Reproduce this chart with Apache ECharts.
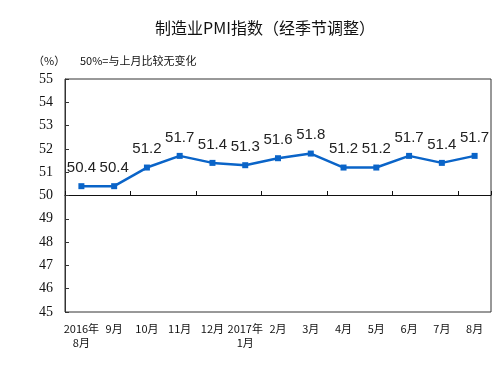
<!DOCTYPE html>
<html><head><meta charset="utf-8">
<script src="https://cdn.jsdelivr.net/npm/echarts@6/dist/echarts.min.js"></script>
<style>html,body{margin:0;padding:0;background:#fff}#c{width:498px;height:367px}</style>
</head><body><div id="c"></div>
<script>
const categories = ['2016年\n8月','9月','10月','11月','12月','2017年\n1月','2月','3月','4月','5月','6月','7月','8月'];
const pmiValues = [50.4,50.4,51.2,51.7,51.4,51.3,51.6,51.8,51.2,51.2,51.7,51.4,51.7];
const yTicks = [45,46,47,48,49,50,51,52,53,54,55];

const chart = echarts.init(document.getElementById('c'));
chart.setOption({
  animation:false,
  backgroundColor:'#fff',
  title:[{text:'制造业PMI指数（经季节调整）',left:260,top:15,textAlign:'center',
    textStyle:{fontFamily:'Noto Sans CJK SC',fontSize:16,fontWeight:'normal',color:'#111'}},
    {text:'（%）',left:28,top:50,textStyle:{fontFamily:'Noto Sans CJK SC',fontSize:11,fontWeight:'normal',color:'#111'}},
    {text:'50%=与上月比较无变化',left:75,top:50,textStyle:{fontFamily:'Noto Sans CJK SC',fontSize:11,fontWeight:'normal',color:'#111'}}],
  grid:{left:65,right:7,top:79,bottom:55,show:true,borderColor:'#333',borderWidth:1,backgroundColor:'#fff'},
  xAxis:[{type:'category',data:categories,boundaryGap:true,position:'bottom',
      axisLine:{show:false},axisTick:{show:false},
      axisLabel:{interval:0,margin:10,color:'#111',fontFamily:'Noto Sans CJK SC',fontSize:11,lineHeight:14}},
    {type:'category',data:categories,boundaryGap:true,position:'bottom',offset:-117,
      axisLine:{show:true,lineStyle:{color:'#111',width:1}},
      axisTick:{show:true,inside:true,length:4,lineStyle:{color:'#111'}},
      axisLabel:{show:false}}],
  yAxis:{type:'value',min:yTicks[0],max:yTicks[yTicks.length-1],interval:1,
    axisLine:{show:true,lineStyle:{color:'#333'}},
    axisTick:{show:true,inside:true,length:4,lineStyle:{color:'#333'}},
    splitLine:{show:false},
    axisLabel:{margin:12,color:'#111',fontFamily:'Liberation Serif',fontSize:14}},
  series:[{type:'line',data:pmiValues,xAxisIndex:0,
    lineStyle:{color:'#0a64c8',width:2.5},itemStyle:{color:'#0a64c8'},
    symbol:'rect',symbolSize:6,
    label:{show:true,position:'top',distance:8,color:'#222',fontFamily:'Liberation Sans',fontSize:15,
      formatter:p=>p.value.toFixed(1)}}]
});
</script></body></html>
